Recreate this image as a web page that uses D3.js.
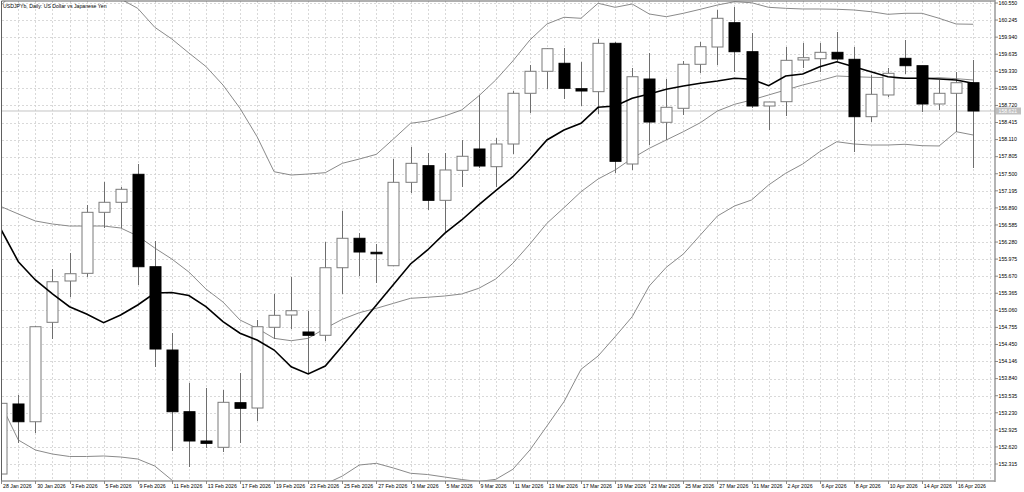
<!DOCTYPE html>
<html>
<head>
    <meta http-equiv="content-type" content="text/html; charset=utf-8">
    <script type="text/javascript" src="https://d3js.org/d3.v7.min.js"></script>
    <style>
        html, body { margin: 0; padding: 0; background: #ffffff; }
        #canvas { width: 1024px; height: 492px; }
        text { font-family: "Liberation Sans", Arial, sans-serif; font-size: 5.2px; fill: #000000; }
        .grid { stroke: #d0d0d0; stroke-width: 0.8; stroke-dasharray: 2,2; shape-rendering: crispEdges; }
        .wick { stroke: #6e6e6e; stroke-width: 1; shape-rendering: crispEdges; }
        .band { fill: none; stroke: #8a8a8a; stroke-width: 1; }
        .ma { fill: none; stroke: #000000; stroke-width: 1.6; }
    </style>
    <script>
        // one entry per daily bar
        var dates = ['28 Jan 2026','29 Jan 2026','30 Jan 2026','2 Feb 2026','3 Feb 2026','4 Feb 2026','5 Feb 2026','6 Feb 2026',
                     '9 Feb 2026','10 Feb 2026','11 Feb 2026','12 Feb 2026','13 Feb 2026','16 Feb 2026','17 Feb 2026','18 Feb 2026',
                     '19 Feb 2026','20 Feb 2026','23 Feb 2026','24 Feb 2026','25 Feb 2026','26 Feb 2026','27 Feb 2026','2 Mar 2026',
                     '3 Mar 2026','4 Mar 2026','5 Mar 2026','6 Mar 2026','9 Mar 2026','10 Mar 2026','11 Mar 2026','12 Mar 2026',
                     '13 Mar 2026','16 Mar 2026','17 Mar 2026','18 Mar 2026','19 Mar 2026','20 Mar 2026','23 Mar 2026','24 Mar 2026',
                     '25 Mar 2026','26 Mar 2026','27 Mar 2026','30 Mar 2026','31 Mar 2026','1 Apr 2026','2 Apr 2026','3 Apr 2026',
                     '6 Apr 2026','7 Apr 2026','8 Apr 2026','9 Apr 2026','10 Apr 2026','13 Apr 2026','14 Apr 2026','15 Apr 2026',
                     '16 Apr 2026','17 Apr 2026'];

        var opens  = [152.136,153.387,153.070,154.846,155.584,155.721,156.811,156.990,157.490,155.839,154.351,153.249,152.726,152.613,
                      153.410,153.315,154.757,154.976,154.673,154.614,155.821,156.347,156.097,155.857,157.347,157.644,157.025,157.561,
                      157.942,157.626,158.031,158.937,159.330,159.473,159.019,158.966,159.830,157.674,159.192,158.419,158.669,159.455,
                      159.764,160.198,159.680,158.710,158.787,159.532,159.555,159.669,159.544,158.519,158.907,159.562,159.430,158.746,
                      158.937,159.126];
        var highs  = [153.476,153.547,154.780,155.798,156.089,156.942,157.347,157.268,157.674,156.304,154.660,153.767,153.672,153.637,
                      153.935,154.887,155.352,155.661,155.053,156.275,156.834,156.436,156.245,157.763,157.983,157.876,157.865,158.103,
                      158.907,158.133,158.983,159.437,159.746,159.741,159.496,159.907,159.853,159.384,159.651,159.192,159.519,159.853,
                      160.425,160.484,160.009,158.782,159.769,159.841,159.841,160.037,159.769,159.264,159.384,159.889,159.430,159.175,
                      159.323,159.532];
        var lows   = [152.065,152.684,152.863,154.542,155.303,155.650,156.525,156.525,155.512,154.053,152.552,152.267,152.595,152.534,
                      152.684,153.083,154.542,154.721,153.935,154.517,155.346,155.673,155.543,155.857,157.150,156.852,156.436,157.268,
                      157.602,157.268,157.853,158.580,159.008,158.840,158.710,158.562,157.519,157.567,158.013,158.103,158.549,159.294,
                      159.442,159.323,158.669,158.281,158.531,159.384,159.312,159.501,157.894,158.430,158.876,159.282,158.608,158.639,
                      158.251,157.597];
        var closes = [153.399,153.070,154.767,155.571,155.714,156.811,156.990,157.222,155.839,154.369,153.249,152.726,152.684,153.417,
                      153.310,154.767,154.971,155.053,154.614,155.821,156.347,156.102,156.072,157.347,157.686,157.025,157.567,157.812,
                      157.638,158.031,158.937,159.330,159.734,159.026,158.978,159.830,157.722,159.233,158.424,158.687,159.455,159.769,
                      160.277,159.680,158.710,158.782,159.526,159.573,159.669,159.550,158.519,158.919,159.294,159.430,158.746,158.937,
                      159.126,158.621];

        // thick moving average
        var maLine  = [156.495,155.929,155.602,155.352,155.125,154.994,154.839,154.976,155.155,155.369,155.378,155.325,155.125,154.857,
                       154.650,154.530,154.351,154.053,153.923,154.065,154.423,154.789,155.155,155.521,155.888,156.138,156.436,156.674,
                       156.942,157.197,157.447,157.758,158.103,158.281,158.401,158.687,158.710,158.848,158.924,159.008,159.067,159.116,
                       159.157,159.205,159.187,159.073,159.246,159.282,159.412,159.501,159.412,159.323,159.233,159.205,159.205,159.192,
                       159.175,159.116];
        // bollinger bands
        var bbUpper = [160.514,160.818,160.746,160.711,160.684,160.684,160.675,160.621,160.455,160.116,159.907,159.657,159.416,159.085,
                       158.669,158.162,157.536,157.477,157.495,157.519,157.686,157.763,157.847,158.121,158.401,158.442,158.531,158.639,
                       158.889,159.175,159.514,159.889,160.175,160.295,160.277,160.545,160.473,160.532,160.354,160.305,160.366,160.438,
                       160.514,160.573,160.555,160.473,160.455,160.443,160.443,160.438,160.425,160.395,160.348,160.366,160.366,160.277,
                       160.175,160.170];
        var bbMiddle = [156.911,156.781,156.656,156.602,156.566,156.566,156.566,156.531,156.388,156.173,155.977,155.745,155.441,155.209,
                        154.887,154.739,154.560,154.517,154.560,154.739,154.900,155.018,155.096,155.185,155.275,155.293,155.316,155.352,
                        155.453,155.620,155.900,156.245,156.615,156.893,157.179,157.406,157.567,157.776,157.954,158.103,158.251,158.412,
                        158.621,158.740,158.817,158.907,158.996,159.085,159.162,159.246,159.233,159.223,159.216,159.205,159.205,159.216,
                        159.198,159.175];
        var bbLower = [153.369,152.743,152.565,152.493,152.449,152.449,152.458,152.440,152.404,152.279,152.029,151.832,151.466,151.332,
                       151.105,151.314,151.582,151.564,151.625,151.957,152.100,152.297,152.327,152.243,152.149,152.127,152.082,152.038,
                       152.002,152.041,152.220,152.565,152.993,153.428,154.006,154.244,154.589,154.946,155.494,155.829,156.066,156.406,
                       156.745,156.924,157.031,157.299,157.508,157.674,157.894,158.072,158.031,158.013,158.013,158.026,158.001,157.996,
                       158.251,158.192];

        var priceTicks = ['160.550','160.245','159.940','159.635','159.330','159.025','158.720','158.415','158.110','157.805',
                          '157.500','157.195','156.890','156.585','156.280','155.975','155.670','155.365','155.060','154.755',
                          '154.450','154.146','153.840','153.535','153.230','152.925','152.620','152.315'];
        var dateTicks = ['28 Jan 2026','30 Jan 2026','3 Feb 2026','5 Feb 2026','9 Feb 2026','11 Feb 2026','13 Feb 2026',
                         '17 Feb 2026','19 Feb 2026','23 Feb 2026','25 Feb 2026','27 Feb 2026','3 Mar 2026','5 Mar 2026',
                         '9 Mar 2026','11 Mar 2026','13 Mar 2026','17 Mar 2026','19 Mar 2026','23 Mar 2026','25 Mar 2026',
                         '27 Mar 2026','31 Mar 2026','2 Apr 2026','6 Apr 2026','8 Apr 2026','10 Apr 2026','14 Apr 2026','16 Apr 2026'];

        var symbolTitle = 'USDJPYb, Daily:  US Dollar vs Japanese Yen';
        var lastPrice = 158.621;

        function init()
        {
            var left = 1.5, right = 995, top = 1, bottom = 481;

            var x = d3.scaleLinear().domain([0, dates.length - 1]).range([1.3, 973.2]);
            var y = d3.scaleLinear().domain([152.315, 160.55]).range([464, 3]);

            var svg = d3.select('#canvas').append('svg')
                .attr('width', 1024)
                .attr('height', 492);

            svg.append('clipPath').attr('id', 'plot')
                .append('rect')
                .attr('x', left).attr('y', top)
                .attr('width', right - left).attr('height', bottom - top);

            // grid: one vertical line per bar, horizontal at each price tick
            var gridX = d3.range(0, dates.length + 1);
            svg.append('g').selectAll('line').data(gridX).enter().append('line')
                .attr('class', 'grid')
                .attr('x1', function(d) { return Math.round(x(d)) + 0.5; })
                .attr('x2', function(d) { return Math.round(x(d)) + 0.5; })
                .attr('y1', top).attr('y2', bottom);

            svg.append('g').selectAll('line').data(priceTicks).enter().append('line')
                .attr('class', 'grid')
                .attr('x1', left).attr('x2', right)
                .attr('y1', function(d) { return Math.round(y(+d)) + 0.5; })
                .attr('y2', function(d) { return Math.round(y(+d)) + 0.5; });

            var plot = svg.append('g').attr('clip-path', 'url(#plot)');

            // last price line
            plot.append('line')
                .attr('x1', left).attr('x2', right)
                .attr('y1', y(lastPrice)).attr('y2', y(lastPrice))
                .attr('stroke', '#c4c4c4').attr('stroke-width', 1);

            var idx = d3.range(dates.length);

            var line = function(values)
            {
                return d3.line()
                    .x(function(i) { return x(i); })
                    .y(function(i) { return y(values[i]); })(idx);
            };

            plot.append('path').attr('class', 'band').attr('d', line(bbUpper));
            plot.append('path').attr('class', 'band').attr('d', line(bbMiddle));
            plot.append('path').attr('class', 'band').attr('d', line(bbLower));

            var candles = plot.append('g').selectAll('g').data(idx).enter().append('g');

            candles.append('line')
                .attr('class', 'wick')
                .attr('x1', function(i) { return Math.round(x(i)) + 0.5; })
                .attr('x2', function(i) { return Math.round(x(i)) + 0.5; })
                .attr('y1', function(i) { return y(highs[i]); })
                .attr('y2', function(i) { return y(lows[i]); });

            var bodyW = 11;
            candles.append('rect')
                .attr('x', function(i) { return Math.round(x(i)) - bodyW / 2 + 0.5; })
                .attr('y', function(i) { return y(Math.max(opens[i], closes[i])); })
                .attr('width', bodyW)
                .attr('height', function(i) { return Math.max(1.5, Math.abs(y(opens[i]) - y(closes[i]))); })
                .attr('fill', function(i) { return closes[i] >= opens[i] ? '#ffffff' : '#000000'; })
                .attr('stroke', function(i) { return closes[i] >= opens[i] ? '#7a7a7a' : '#000000'; })
                .attr('stroke-width', 1);

            plot.append('path').attr('class', 'ma').attr('d', line(maLine));

            // frame
            svg.append('line').attr('x1', left).attr('x2', left).attr('y1', top).attr('y2', bottom)
                .attr('stroke', '#606060').attr('stroke-width', 1);
            svg.append('line').attr('x1', left).attr('x2', right).attr('y1', top).attr('y2', top)
                .attr('stroke', '#606060').attr('stroke-width', 1);
            svg.append('line').attr('x1', right).attr('x2', right).attr('y1', 0).attr('y2', bottom + 1)
                .attr('stroke', '#9a9a9a').attr('stroke-width', 1.5);
            svg.append('line').attr('x1', left).attr('x2', right).attr('y1', bottom).attr('y2', bottom)
                .attr('stroke', '#9a9a9a').attr('stroke-width', 1.5);

            // price axis
            var pAxis = svg.append('g');
            pAxis.selectAll('line').data(priceTicks).enter().append('line')
                .attr('x1', right).attr('x2', right + 3)
                .attr('y1', function(d) { return y(+d); })
                .attr('y2', function(d) { return y(+d); })
                .attr('stroke', '#707070').attr('stroke-width', 0.8);
            pAxis.selectAll('text').data(priceTicks).enter().append('text')
                .attr('x', right + 3.5)
                .attr('y', function(d) { return y(+d) + 1.8; })
                .text(function(d) { return d; });

            var lp = svg.append('g');
            lp.append('rect')
                .attr('x', right + 1).attr('y', y(lastPrice) - 3.5)
                .attr('width', 25).attr('height', 7)
                .attr('fill', '#c0c0c0');
            lp.append('text')
                .attr('x', right + 3.5).attr('y', y(lastPrice) + 1.8)
                .style('fill', '#ffffff')
                .text(d3.format('.3f')(lastPrice));

            // date axis
            var dAxis = svg.append('g');
            dAxis.selectAll('line').data(dateTicks).enter().append('line')
                .attr('x1', function(d) { return Math.round(x(dates.indexOf(d))) + 0.5; })
                .attr('x2', function(d) { return Math.round(x(dates.indexOf(d))) + 0.5; })
                .attr('y1', bottom).attr('y2', bottom + 3)
                .attr('stroke', '#707070').attr('stroke-width', 0.8);
            dAxis.selectAll('text').data(dateTicks).enter().append('text')
                .attr('x', function(d) { return x(dates.indexOf(d)) + 1.8; })
                .attr('y', bottom + 7.2)
                .text(function(d) { return d; });

            svg.append('text')
                .attr('x', 3).attr('y', 7.5)
                .text(symbolTitle);
        }
        window.addEventListener('load', init, false);
    </script>
</head>
<body>
    <div id="canvas"></div>
</body>
</html>
